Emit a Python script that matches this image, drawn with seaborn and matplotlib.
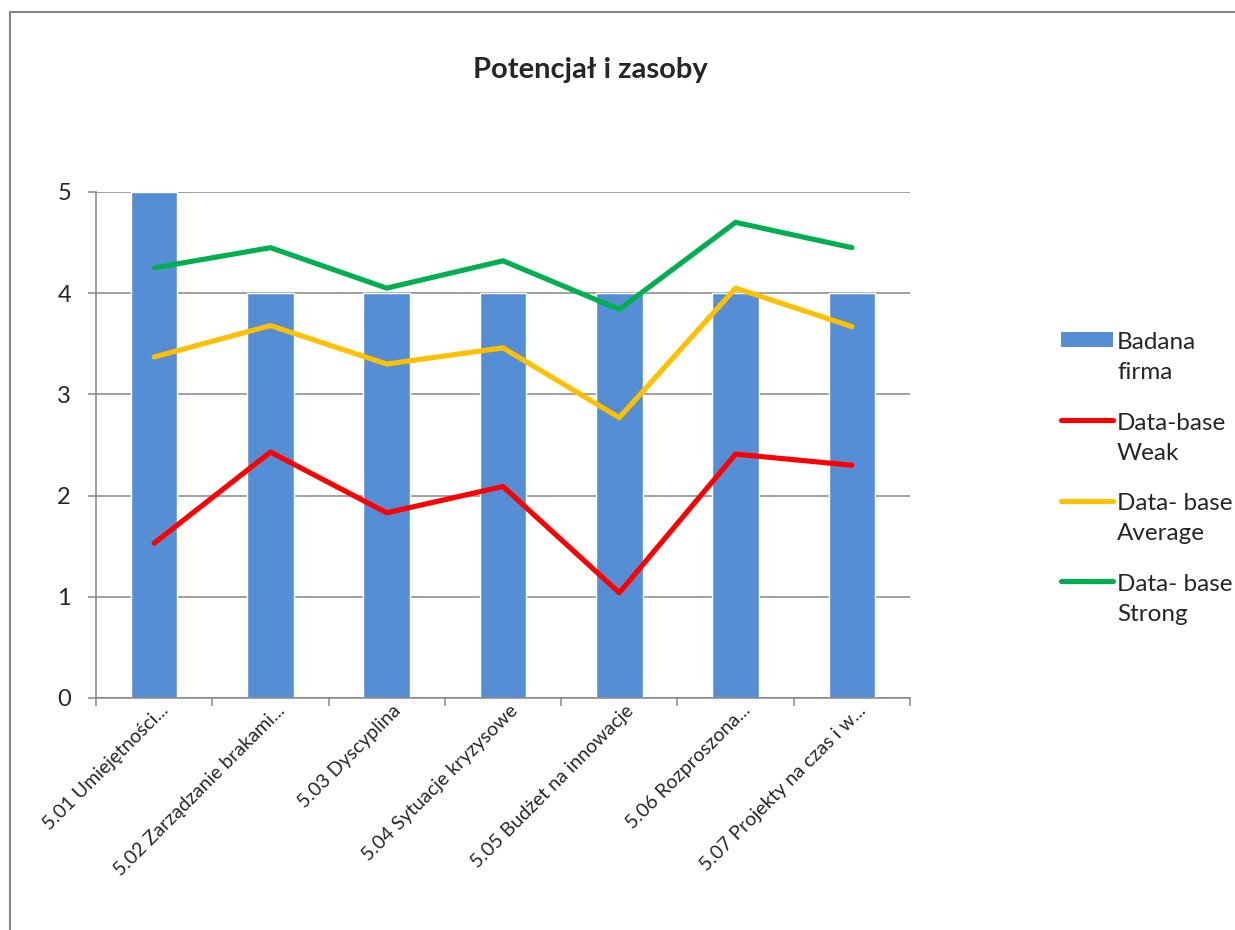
import matplotlib
matplotlib.use("Agg")
import matplotlib.pyplot as plt
from matplotlib.patches import Rectangle
from matplotlib.lines import Line2D
import numpy as np
import pandas as pd
import seaborn as sns

categories = [
    "5.01 Umiejętności...",
    "5.02 Zarządzanie brakami...",
    "5.03 Dyscyplina",
    "5.04 Sytuacje kryzysowe",
    "5.05 Budżet na innowacje",
    "5.06 Rozproszona...",
    "5.07 Projekty na czas i w...",
]
badana_firma = [5, 4, 4, 4, 4, 4, 4]
weak = [1.53, 2.43, 1.83, 2.09, 1.04, 2.41, 2.30]
average = [3.37, 3.68, 3.30, 3.46, 2.77, 4.05, 3.67]
strong = [4.25, 4.45, 4.05, 4.32, 3.84, 4.70, 4.45]

series_labels = ["Badana\nfirma", "Data-base\nWeak", "Data- base\nAverage", "Data- base\nStrong"]
bar_color = "#558ED5"
line_colors = ["#FF0000", "#FFC000", "#00B050"]
grid_color = "#868686"

sns.set_theme(style="white")
plt.rcParams["font.family"] = ["Lato", "DejaVu Sans"]

fig = plt.figure(figsize=(12.35, 9.3), dpi=100)
ax = fig.add_axes([96 / 1235, 1 - 698 / 930, 814 / 1235, 506 / 930])

bars = pd.DataFrame({"cat": categories, "val": badana_firma})
sns.barplot(data=bars, x="cat", y="val", color=bar_color, saturation=1,
            width=0.4, ax=ax, zorder=2)

pos = np.arange(len(categories))
for vals, col in zip([weak, average, strong], line_colors):
    sns.lineplot(x=pos, y=vals, color=col, linewidth=3.7, ax=ax, zorder=3,
                 solid_capstyle="round")

ax.set_xlim(-0.5, len(categories) - 0.5)
ax.set_ylim(0, 5)
ax.set_yticks(range(0, 6))
ax.yaxis.grid(True, color=grid_color, linewidth=1.1)
ax.set_axisbelow(True)
ax.set_xlabel("")
ax.set_ylabel("")

for s in ["top", "right"]:
    ax.spines[s].set_visible(False)
for s in ["left", "bottom"]:
    ax.spines[s].set_color(grid_color)
    ax.spines[s].set_linewidth(1.1)

# Category ticks sit between bars; labels are placed at bar centres
ax.set_xticks(np.arange(-0.5, len(categories) + 0.5, 1))
ax.set_xticklabels([])
ax.tick_params(axis="x", which="major", direction="out", length=6, width=1.1,
               color=grid_color, bottom=True)
ax.set_xticks(pos + 0.1, minor=True)
ax.set_xticklabels(categories, minor=True, rotation=45, ha="right", va="center",
                   rotation_mode="anchor", fontsize=14)
ax.tick_params(axis="x", which="minor", length=0, pad=7)
ax.tick_params(axis="y", direction="out", length=6, width=1.1, color=grid_color,
               left=True, labelsize=17, pad=12)

fig.text(590 / 1235, 1 - 70 / 930, "Potencjał i zasoby", ha="center", va="center",
         fontsize=21, fontweight="bold")

handles = [Rectangle((0, 0), 1, 1, facecolor=bar_color, edgecolor="none")]
handles += [Line2D([], [], color=c, linewidth=3.7, solid_capstyle="round") for c in line_colors]
leg = fig.legend(handles, series_labels, loc="upper left",
                 bbox_to_anchor=(1061 / 1235, 1 - 332 / 930), frameon=False,
                 fontsize=17.5, handlelength=2.15, handleheight=0.62, handletextpad=0.15,
                 labelspacing=1.2, borderaxespad=0, borderpad=0)
for t in leg.get_texts():
    t.set_linespacing(1.55)
# Keys line up with the first line of each two-line label
shift = 13
for h in leg.legend_handles:
    if isinstance(h, Rectangle):
        h.set_y(h.get_y() + shift)
    else:
        h.set_ydata(np.asarray(h.get_ydata()) + shift)

fig.patches.append(Rectangle((10 / 1235, -0.1), 1.2, 1.1 - 12 / 930,
                             transform=fig.transFigure, fill=False,
                             edgecolor=grid_color, linewidth=1.5))

fig.savefig("out.png", dpi=100, facecolor="white")
